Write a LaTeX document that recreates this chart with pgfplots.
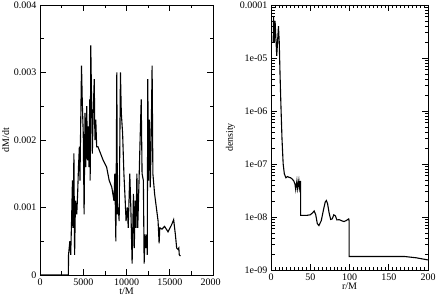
\documentclass[border=0pt]{standalone}
\usepackage{pgfplots}
\pgfplotsset{compat=1.18}
\usepackage{fontspec}
\setmainfont{Liberation Serif}
\pgfplotsset{
  common/.style={
    scale only axis,
    anchor=south west,
    axis line style={line width=0.8pt},
    tick style={black, line width=0.6pt},
    major tick length=6pt,
    minor tick length=3.5pt,
    tick align=inside,
    xtick pos=both, ytick pos=both,
    font=\fontsize{10}{12}\selectfont,
    /pgf/number format/assume math mode=true,
    scaled ticks=false,
  }
}
\begin{document}
\begin{tikzpicture}
\path[use as bounding box] (0pt,0pt) rectangle (436pt,299pt);
\begin{scope}
\clip (0pt,0pt) rectangle (220pt,299pt);
\begin{axis}[common,
  at={(40pt,24pt)}, width=173pt, height=270pt,
  xmin=0, xmax=20000, ymin=0, ymax=0.004,
  xtick={0,5000,10000,15000,20000},
  xticklabels={0,5000,10000,15000,20000},
  ytick={0,0.001,0.002,0.003,0.004},
  yticklabels={0,0.001,0.002,0.003,0.004},
  minor x tick num=1, minor y tick num=1,
  xlabel={t/M}, ylabel={dM/dt},
  xlabel style={yshift=4pt},
  ylabel style={yshift=-2pt},
]
\addplot[black, line width=1.1pt, no markers] coordinates {
(0,0) (3280,0) (3300,0.0003) (3450,0.0005) (3550,0.0003) (3650,0.0008) (3750,0.0014)
(3820,0.0007) (3920,0.0018) (4000,0.0003) (4100,0.0011) (4250,0.0009) (4350,0.0012)
(4450,0.0016) (4550,0.0019) (4620,0.0014) (4700,0.0022) (4800,0.0031) (4900,0.0025)
(5000,0.0021) (5100,0.0009) (5200,0.0024) (5300,0.0016) (5400,0.0025) (5500,0.0017)
(5600,0.0022) (5650,0.0016) (5750,0.0026) (5800,0.0014) (5870,0.0034) (5950,0.0027)
(6050,0.0018) (6150,0.0024) (6270,0.0029) (6350,0.0020) (6450,0.0023) (6550,0.0019)
(6700,0.0019) (7000,0.0018) (7300,0.0017) (7700,0.0016) (8000,0.0014) (8300,0.0013)
(8550,0.0011) (8650,0.0015) (8770,0.0005) (8880,0.0030) (8950,0.0009) (9050,0.0010)
(9150,0.0008) (9300,0.0030) (9400,0.0024) (9550,0.0021) (9700,0.0015) (9850,0.0011)
(9950,0.0008) (10100,0.0010) (10200,0.0007) (10380,0.0015) (10500,0.0010) (10650,0.00017)
(10800,0.0012) (10900,0.0004) (11000,0.0011) (11100,0.0007) (11200,0.0015) (11300,0.0007)
(11450,0.0014) (11550,0.0019) (11700,0.0026) (11800,0.0015) (11950,0.0014) (12040,0.00017)
(12150,0.0006) (12250,0.0004) (12350,0.0006) (12400,0.0003) (12460,0.0029) (12550,0.0014)
(12650,0.0023) (12750,0.0013) (12850,0.0020) (12960,0.0031) (13050,0.0015) (13250,0.0012)
(13450,0.0010) (13650,0.0008) (13770,0.00047) (13850,0.0007) (14100,0.00068) (14400,0.00072)
(14800,0.00064) (15200,0.00074) (15450,0.00082) (15650,0.0006) (15800,0.0004) (15950,0.00038)
(16050,0.0004) (16100,0.0003) (16230,0.00028)
};
\end{axis}
\end{scope}
\begin{axis}[common,
  at={(271pt,29pt)}, width=157pt, height=265pt,
  ymode=log, log basis y=10,
  xmin=0, xmax=200, ymin=1e-9, ymax=1e-4,
  xtick={0,50,100,150,200},
  xticklabels={0,50,100,150,200},
  minor x tick num=9,
  ytick={1e-9,1e-8,1e-7,1e-6,1e-5,1e-4},
  yticklabels={1e-09,1e-08,1e-07,1e-06,1e-05,0.0001},
  minor ytick={2e-9,3e-9,4e-9,5e-9,6e-9,7e-9,8e-9,9e-9,
    2e-8,3e-8,4e-8,5e-8,6e-8,7e-8,8e-8,9e-8,
    2e-7,3e-7,4e-7,5e-7,6e-7,7e-7,8e-7,9e-7,
    2e-6,3e-6,4e-6,5e-6,6e-6,7e-6,8e-6,9e-6,
    2e-5,3e-5,4e-5,5e-5,6e-5,7e-5,8e-5,9e-5},
  xlabel={r/M}, ylabel={density},
  xlabel style={yshift=4pt},
  ylabel style={yshift=-2pt},
]
\addplot[black, line width=1.1pt, no markers] coordinates {
(2.8,2e-5) (3.3,6e-5) (4.2,2e-5) (5.2,5e-5) (7.3,1.1e-5) (9.5,4e-5) (10.5,2e-5)
(11.5,5e-6) (12.5,1.5e-6) (14,3e-7) (15.5,1e-7) (17,6.5e-8) (19,5.5e-8) (21,5.8e-8)
(23,5.6e-8) (25,5.5e-8) (27,5.2e-8) (29,4.8e-8) (30.5,4.2e-8) (31.5,3.3e-8) (33,4.8e-8)
(34,3.4e-8) (35.5,4.9e-8) (36.5,3.5e-8) (37.7,4.8e-8) (37.8,1.07e-8) (45,1.07e-8)
(50,1.1e-8) (53,1.2e-8) (55,1.3e-8) (57,1.1e-8) (59,7.5e-9) (61,6.9e-9) (64,8.5e-9)
(67,1.4e-8) (69,1.9e-8) (70.5,2.05e-8) (72,1.8e-8) (74,1.2e-8) (76,9e-9) (78,9.2e-9)
(80,1.1e-8) (82,1.05e-8) (84,8.8e-9) (87,8.9e-9) (90,8.5e-9) (93,8.2e-9) (96,8.6e-9)
(99,9.2e-9) (99.5,8.5e-9) (99.6,1.8e-9) (120,1.8e-9) (150,1.8e-9) (170,1.8e-9)
(185,1.7e-9) (200,1.55e-9)
};
\end{axis}
\end{tikzpicture}
\end{document}
